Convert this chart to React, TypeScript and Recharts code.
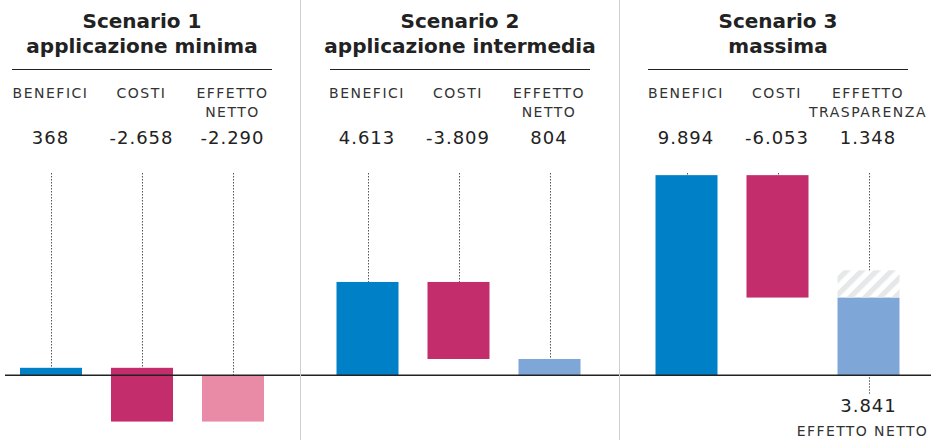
import React from 'react';
import { BarChart, Bar, XAxis, YAxis, ReferenceLine } from 'recharts';

const titles = [
  ['Scenario 1', 'applicazione minima'],
  ['Scenario 2', 'applicazione intermedia'],
  ['Scenario 3', 'massima'],
];
const categories = [
  ['BENEFICI', 'COSTI', 'EFFETTO NETTO'],
  ['BENEFICI', 'COSTI', 'EFFETTO NETTO'],
  ['BENEFICI', 'COSTI', 'EFFETTO TRASPARENZA'],
];
const benefici = [368, 4613, 9894];
const costi = [-2658, -3809, -6053];
const effettoNetto = [-2290, 804, 3841];
const effettoTrasparenza: (number | null)[] = [null, null, 1348];

const BLUE = '#0080c6';
const MAGENTA = '#c42d6c';
const PINK = '#e98ba6';
const LIGHT_BLUE = '#7ea7d8';
const HATCH = '#e6e7e8';
const TEXT = '#222';
const FONT = '"DejaVu Sans", sans-serif';

const HEIGHT = 443;
const PLOT_TOP = 173;
const AXIS_H = 60;
const BAR_W = 62;

// where each scenario sits on the page
const panels = [
  { left: 0, width: 300, margin: 5, padL: 0, padR: 22, center: 142 },
  { left: 300, width: 319, margin: 0, padL: 21.5, padR: 24.5, center: 460 },
  { left: 619, width: 312, margin: 0, padL: 21.5, padR: 17.5, center: 778 },
];

const fmt = (v: number) => {
  const s = Math.abs(v).toString().replace(/\B(?=(\d{3})+(?!\d))/g, '.');
  return (v < 0 ? '-' : '') + s;
};

type Row = {
  name: string;
  value: number;
  range: [number, number];
  fill: string;
  hatch: [number, number] | null;
  bottom: number | null;
};

const buildRows = (i: number): Row[] => {
  const b = benefici[i];
  const c = costi[i];
  const n = effettoNetto[i];
  const t = effettoTrasparenza[i];
  return [
    { name: categories[i][0], value: b, range: [0, b], fill: BLUE, hatch: null, bottom: null },
    { name: categories[i][1], value: c, range: [b + c, b], fill: MAGENTA, hatch: null, bottom: null },
    {
      name: categories[i][2],
      value: t ?? n,
      range: n < 0 ? [n, 0] : [0, n],
      fill: n < 0 ? PINK : LIGHT_BLUE,
      hatch: t != null ? [n, n + t] : null,
      bottom: t != null ? n : null,
    },
  ];
};

const Dots = ({ x, y1, y2 }: { x: number; y1: number; y2: number }) => (
  <line
    x1={Math.round(x) + 0.5}
    x2={Math.round(x) + 0.5}
    y1={y1}
    y2={y2}
    stroke="#555"
    strokeWidth={1}
    strokeDasharray="1.5 1.5"
  />
);

const MainShape = (props: any) => {
  const { x, y, width, height, payload } = props;
  if (!payload || x == null || y == null) return null;
  const top = Math.min(y, y + height);
  const h = Math.abs(height);
  const cx = x + width / 2;
  return (
    <g>
      {payload.hatch == null && <Dots x={cx} y1={PLOT_TOP} y2={top} />}
      <rect x={x} y={top} width={width} height={h} fill={payload.fill} />
      {payload.bottom != null && (
        <g>
          <Dots x={cx} y1={top + h + 2} y2={top + h + 19} />
          <text x={cx} y={top + h + 37} textAnchor="middle" fontSize={18} letterSpacing={1} fill={TEXT} fontFamily={FONT}>
            {fmt(payload.bottom)}
          </text>
          <text x={cx - 6} y={top + h + 61} textAnchor="middle" fontSize={14} letterSpacing={1.4} fill="#333" fontFamily={FONT}>
            EFFETTO NETTO
          </text>
        </g>
      )}
    </g>
  );
};

const HatchShape = (props: any) => {
  const { x, y, width, height, payload } = props;
  if (!payload || payload.hatch == null || x == null || y == null) return null;
  const top = Math.min(y, y + height);
  const h = Math.abs(height);
  const cx = x + width / 2;
  return (
    <g>
      <defs>
        <pattern id="stripes" width={10.6} height={10.6} patternUnits="userSpaceOnUse" patternTransform="rotate(45)">
          <rect width={5.3} height={10.6} fill={HATCH} />
        </pattern>
      </defs>
      <Dots x={cx} y1={PLOT_TOP} y2={top} />
      <rect x={x} y={top} width={width} height={h} fill="url(#stripes)" />
    </g>
  );
};

const HeaderTick = (props: any) => {
  const { x, rows } = props;
  const index = props.index ?? props.payload?.index ?? 0;
  const row: Row = rows[index];
  if (!row) return null;
  const words = row.name.split(' ');
  return (
    <g>
      {words.map((w, k) => (
        <text key={k} x={x} y={98 + k * 19} textAnchor="middle" fontSize={14} letterSpacing={1.5} fill="#333" fontFamily={FONT}>
          {w}
        </text>
      ))}
      <text x={x} y={144} textAnchor="middle" fontSize={18} letterSpacing={1} fill={TEXT} fontFamily={FONT}>
        {fmt(row.value)}
      </text>
    </g>
  );
};

const Panel = ({ i }: { i: number }) => {
  const p = panels[i];
  const rows = buildRows(i);
  return (
    <div style={{ position: 'absolute', left: p.left, top: 0, width: p.width, height: HEIGHT }}>
      <BarChart
        width={p.width}
        height={HEIGHT}
        data={rows}
        margin={{ top: PLOT_TOP - AXIS_H, right: 0, bottom: 0, left: p.margin }}
      >
        <XAxis
          xAxisId="main"
          dataKey="name"
          orientation="top"
          height={AXIS_H}
          padding={{ left: p.padL, right: p.padR }}
          axisLine={false}
          tickLine={false}
          interval={0}
          tick={(t: any) => <HeaderTick {...t} rows={rows} />}
        />
        <XAxis xAxisId="hatch" dataKey="name" hide padding={{ left: p.padL, right: p.padR }} />
        <YAxis hide domain={[-3350, 10000]} />
        <ReferenceLine xAxisId="main" y={0} stroke="#222" strokeWidth={1.5} />
        <Bar xAxisId="main" dataKey="range" barSize={BAR_W} shape={MainShape} isAnimationActive={false} />
        <Bar xAxisId="hatch" dataKey="hatch" barSize={BAR_W} shape={HatchShape} isAnimationActive={false} />
      </BarChart>
    </div>
  );
};

export default function App() {
  return (
    <div style={{ position: 'absolute', left: 0, top: 0, width: 931, height: HEIGHT, background: '#fff', overflow: 'hidden' }}>
      {panels.map((_, i) => (
        <Panel key={i} i={i} />
      ))}
      <svg width={931} height={HEIGHT} style={{ position: 'absolute', left: 0, top: 0, pointerEvents: 'none' }}>
        <line x1={300.5} x2={300.5} y1={0} y2={440} stroke="#cfcfcf" strokeWidth={1} />
        <line x1={619.5} x2={619.5} y1={0} y2={440} stroke="#cfcfcf" strokeWidth={1} />
        {panels.map((p, i) => (
          <g key={i}>
            <text x={p.center} y={28} textAnchor="middle" fontSize={20} fontWeight="bold" fill={TEXT} fontFamily={FONT}>
              {titles[i][0]}
            </text>
            <text x={p.center} y={53} textAnchor="middle" fontSize={20} fontWeight="bold" fill={TEXT} fontFamily={FONT}>
              {titles[i][1]}
            </text>
            <line x1={p.center - 130} x2={p.center + 130} y1={69.5} y2={69.5} stroke={TEXT} strokeWidth={1} />
          </g>
        ))}
      </svg>
    </div>
  );
}
